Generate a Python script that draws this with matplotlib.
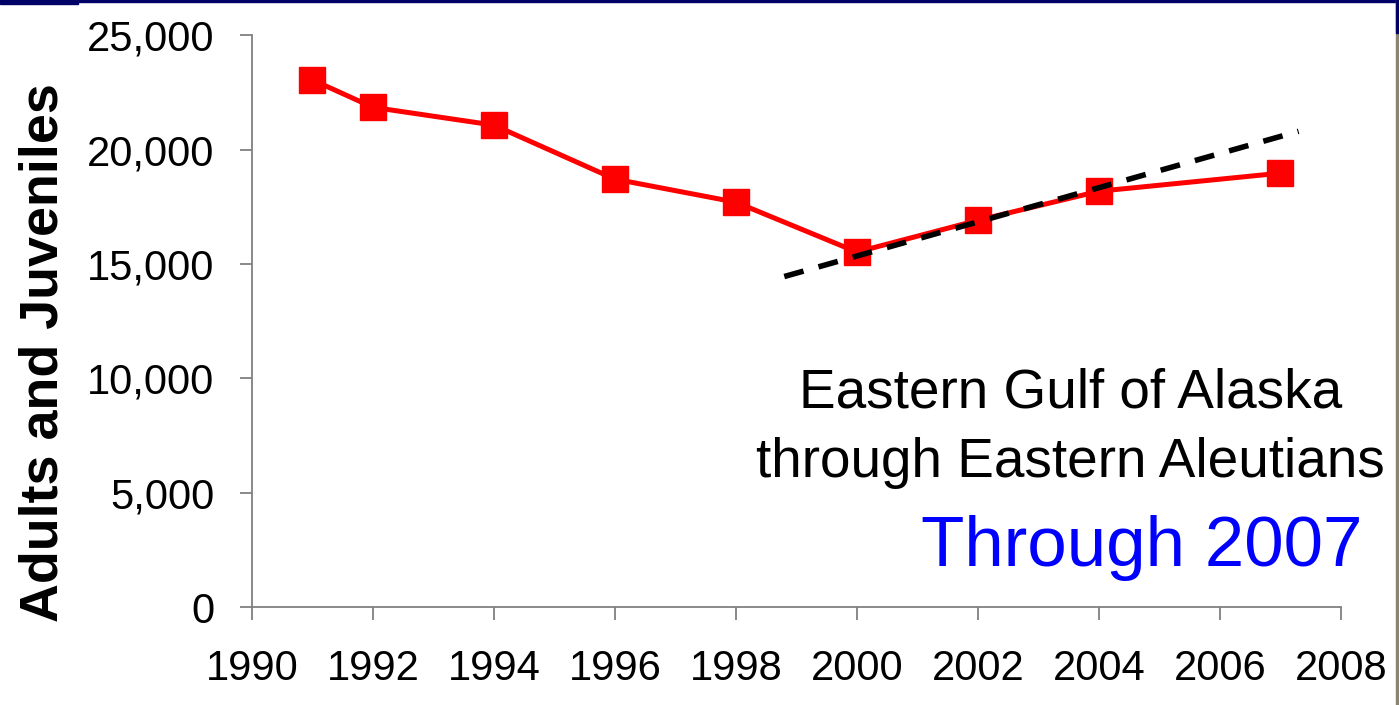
import matplotlib
matplotlib.use("Agg")
import matplotlib.pyplot as plt
from matplotlib.patches import Rectangle
from matplotlib.ticker import FuncFormatter

plt.rcParams['font.family'] = ['Liberation Sans', 'DejaVu Sans']

# counts of adults and juveniles
years = [1991, 1992, 1994, 1996, 1998, 2000, 2002, 2004, 2007]
counts = [23050, 21850, 21070, 18710, 17700, 15520, 16910, 18180, 18970]

# trend line end points
trend_years = [1998.8, 2007.3]
trend_counts = [14450, 20800]

fig = plt.figure(figsize=(13.99, 7.05), dpi=100)
ax = fig.add_axes([0.180, 0.139, 0.7785, 0.811])

ax.plot(years, counts, color='#ff0000', lw=3.6, marker='s', ms=19,
        mec='#ff0000', mfc='#ff0000', zorder=3)
ax.plot(trend_years, trend_counts, color='black', lw=4,
        dashes=(3.6, 2.8), zorder=4)

ax.set_xlim(1990, 2008)
ax.set_ylim(0, 25000)
ax.set_xticks(range(1990, 2009, 2))
ax.set_yticks(range(0, 25001, 5000))
ax.yaxis.set_major_formatter(FuncFormatter(lambda v, p: f"{int(v):,}"))

for s in ['top', 'right']:
    ax.spines[s].set_visible(False)
for s in ['left', 'bottom']:
    ax.spines[s].set_color('#808080')
    ax.spines[s].set_linewidth(1.3)
ax.tick_params(axis='both', direction='out', length=9, width=1.3,
               color='#808080', labelsize=30)
ax.tick_params(axis='x', pad=21)
ax.tick_params(axis='y', pad=18)

fig.text(0.031, 0.50, 'Adults and Juveniles', rotation=90, ha='center',
         va='center', fontsize=38.8, fontweight='bold')

ax.text(0.752, 0.227, 'Eastern Gulf of Alaska\nthrough Eastern Aleutians',
        transform=ax.transAxes, ha='center', va='baseline', fontsize=39.5,
        linespacing=1.45)
ax.text(0.817, 0.072, 'Through 2007', transform=ax.transAxes,
        ha='center', va='baseline', fontsize=51, color='#0000ff')

# slide frame edges
fig.patches.append(Rectangle((0, 1 - 2 / 705), 1, 2 / 705,
                             transform=fig.transFigure, color='#000066'))
fig.patches.append(Rectangle((0, 1 - 4 / 705), 78 / 1399, 4 / 705,
                             transform=fig.transFigure, color='#000066'))
fig.patches.append(Rectangle((1396 / 1399, 0), 3 / 1399, 1,
                             transform=fig.transFigure, color='#8a8470'))
fig.patches.append(Rectangle((1396 / 1399, 1 - 33 / 705), 3 / 1399, 33 / 705,
                             transform=fig.transFigure, color='#000066'))

fig.savefig('out.png', dpi=100)
